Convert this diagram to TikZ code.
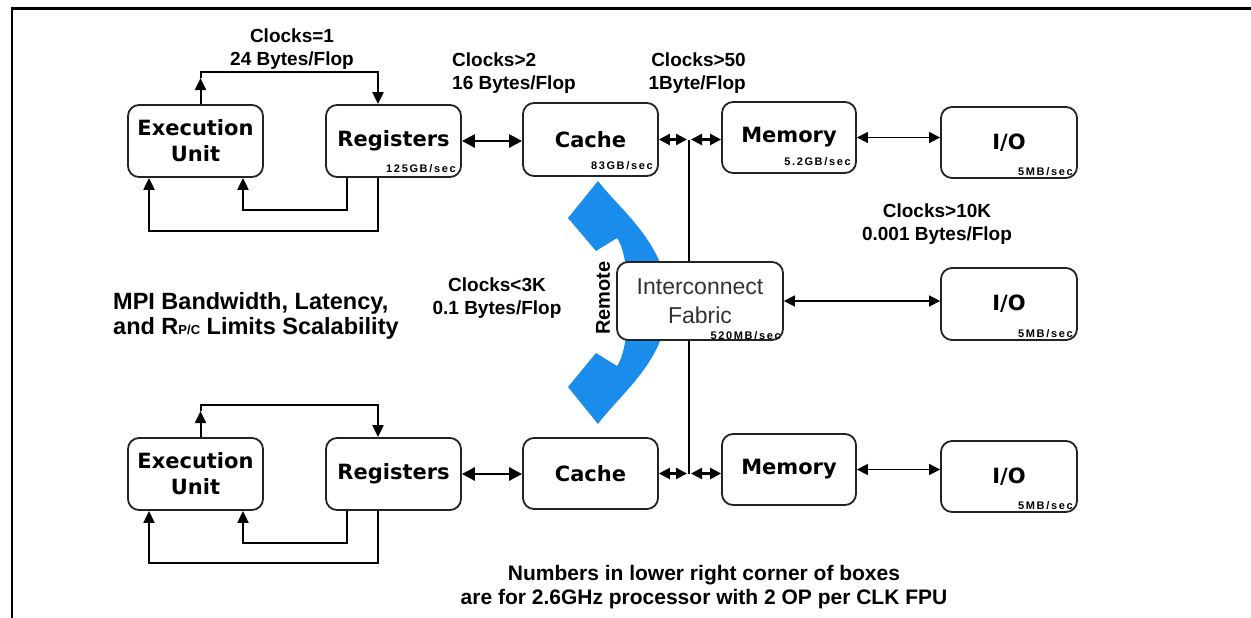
\documentclass[tikz,border=0pt]{standalone}
\usepackage{fontspec}
\setmainfont{Liberation Sans}
\newfontfamily\dvs{DejaVu Sans}
\newfontfamily\spdf[LetterSpace=15]{Liberation Sans}
\usetikzlibrary{arrows.meta,calc,backgrounds}
\definecolor{remoteblue}{RGB}{26,140,235}
\definecolor{boxline}{RGB}{35,35,35}
\definecolor{fabrictext}{RGB}{50,50,50}

\begin{document}
\begin{tikzpicture}[x=1pt,y=-1pt,
  unitbox/.style={draw=boxline, line width=1.8pt, rounded corners=11pt, fill=white,
    minimum width=135pt, minimum height=72pt, inner sep=0pt, align=center,
    font=\dvs\bfseries\fontsize{21}{26}\selectfont},
  fabricbox/.style={unitbox, minimum width=166pt, minimum height=78pt,
    text=fabrictext, font=\fontsize{23}{29}\selectfont},
  spd/.style={anchor=east, inner sep=0pt, font=\spdf\bfseries\fontsize{11}{11}\selectfont},
  clocklbl/.style={inner sep=0pt, font=\bfseries\fontsize{19}{23}\selectfont},
  wire/.style={draw=black, line width=2pt},
  tipend/.style={-{Triangle[length=12pt,width=11pt]}},
  smalldbl/.style={{Triangle[length=11pt,width=11pt]}-{Triangle[length=11pt,width=11pt]}},
  thickdbl/.style={{Triangle[length=13pt,width=13pt]}-{Triangle[length=13pt,width=13pt]}}
]
\useasboundingbox (0,0) rectangle (1251,618);

% ---- upper processor ----
\node[unitbox] (eu1)    at (195.5,141)  {Execution\\Unit};
\node[unitbox] (reg1)   at (393.5,141)  {Registers};
\node[unitbox, minimum height=73pt] (cache1) at (590.5,139.5) {Cache};
\node[unitbox, minimum width=134pt, minimum height=71pt] (mem1) at (789,137.5) {Memory};
\node[unitbox, minimum width=136pt, minimum height=71pt] (io1)  at (1009,142.5) {I/O};

% ---- interconnect ----
\node[fabricbox] (ic) at (700,301) {Interconnect\\Fabric};
\node[unitbox, minimum width=136pt] (io2) at (1009,304) {I/O};

% ---- lower processor ----
\node[unitbox] (eu2)    at (195.5,474)  {Execution\\Unit};
\node[unitbox] (reg2)   at (393.5,474)  {Registers};
\node[unitbox, minimum height=71pt] (cache2) at (590.5,473.5) {Cache};
\node[unitbox, minimum width=134pt, minimum height=71pt] (mem2) at (789,469.5) {Memory};
\node[unitbox, minimum width=136pt, minimum height=71pt] (io3)  at (1009,476.5) {I/O};

% ---- bandwidth figures in the box corners ----
\node[spd] at ($(reg1.south east)+(-6,-9)$)    {125GB/sec};
\node[spd] at ($(cache1.south east)+(-6,-11)$) {83GB/sec};
\node[spd] at ($(mem1.south east)+(-6,-12)$)   {5.2GB/sec};
\node[spd] at ($(io1.south east)+(-5,-7)$)     {5MB/sec};
\node[spd] at ($(ic.south east)+(-3,-5)$)      {520MB/sec};
\node[spd] at ($(io2.south east)+(-5,-7)$)     {5MB/sec};
\node[spd] at ($(io3.south east)+(-5,-7)$)     {5MB/sec};

% ---- latency / bandwidth annotations ----
\node[clocklbl, align=center] (c1) at (292,49) {Clocks=1\\24 Bytes/Flop};
\node[clocklbl, align=left, anchor=west] (c2) at (452,73) {Clocks>2\\16 Bytes/Flop};
\node[clocklbl, align=right, anchor=east] (c3) at (746,73) {Clocks>50\\1Byte/Flop};
\node[clocklbl, align=center] (c4) at (937,224) {Clocks>10K\\0.001 Bytes/Flop};
\node[clocklbl, align=center] (c5) at (497,298) {Clocks<3K\\0.1 Bytes/Flop};
\node[inner sep=0pt, align=left, anchor=west, font=\bfseries\fontsize{23.5}{25}\selectfont] (mpi) at (113,315.5)
  {MPI Bandwidth, Latency,\\and R{\fontsize{13}{13}\selectfont P/C} Limits Scalability};
\node[inner sep=0pt, align=center, font=\bfseries\fontsize{21}{24}\selectfont] (foot) at (704,587)
  {Numbers in lower right corner of boxes\\are for 2.6GHz processor with 2 OP per CLK FPU};
\node[inner sep=0pt, rotate=90, font=\bfseries\fontsize{20}{20}\selectfont] (remote) at (603,298) {Remote};

\coordinate (j1) at (689,139.5);
\coordinate (j2) at (689,473.5);

\begin{pgfonlayer}{background}
  \fill[white] (0,0) rectangle (1251,618);
  % page frame
  \draw[line width=3pt] (10.5,9) -- (1251,9);
  \draw[line width=2.8pt] (12,7.5) -- (12,618);

  % curved double arrow for remote traffic
  \fill[remoteblue] (598,181) .. controls (620,210) and (668,245) .. (668,302)
    .. controls (668,359) and (620,394) .. (598,424)
    -- (568,387) -- (596,353) -- (617,366)
    .. controls (632,345) and (632,259) .. (617,238)
    -- (596,251) -- (568,218) -- cycle;

  % upper processor: execution unit / register loops
  \draw[wire,tipend] ($(eu1.north)+(5,0)$) -- ($(eu1.north)+(5,-26)$);
  \draw[wire,tipend] ($(eu1.north)+(5,-26)$) -- ($(eu1.north)+(5,-32)$) -| ($(reg1.north)+(-15.5,0)$);
  \draw[wire,tipend] ($(reg1.south)+(-46.5,0)$) -- ++(0,32) -| ($(eu1.south)+(47.5,0)$);
  \draw[wire,tipend] ($(reg1.south)+(-15.5,0)$) -- ++(0,53) -| ($(eu1.south)+(-46.5,0)$);

  % lower processor: execution unit / register loops
  \draw[wire,tipend] ($(eu2.north)+(5,0)$) -- ($(eu2.north)+(5,-26)$);
  \draw[wire,tipend] ($(eu2.north)+(5,-26)$) -- ($(eu2.north)+(5,-32)$) -| ($(reg2.north)+(-15.5,0)$);
  \draw[wire,tipend] ($(reg2.south)+(-46.5,0)$) -- ++(0,32) -| ($(eu2.south)+(47.5,0)$);
  \draw[wire,tipend] ($(reg2.south)+(-15.5,0)$) -- ++(0,52) -| ($(eu2.south)+(-46.5,0)$);

  % registers <-> cache
  \draw[wire, line width=2.8pt, thickdbl] (reg1.east) -- (reg1.east -| cache1.west);
  \draw[wire, line width=2.8pt, thickdbl] (reg2.east) -- (reg2.east -| cache2.west);

  % cache <-> memory through the fabric bus
  \draw[wire] (j1) -- (j2);
  \draw[wire, line width=2.4pt, smalldbl, shorten >=2pt] (cache1.east) -- (j1);
  \draw[wire, line width=2.4pt, smalldbl, shorten <=2pt] (j1) -- (j1 -| mem1.west);
  \draw[wire, line width=2.4pt, smalldbl, shorten >=2pt] (cache2.east) -- (j2);
  \draw[wire, line width=2.4pt, smalldbl, shorten <=2pt] (j2) -- (j2 -| mem2.west);

  % memory / fabric <-> I/O
  \draw[wire, line width=1.6pt, smalldbl] (mem1.east) -- (mem1.east -| io1.west);
  \draw[wire, line width=1.6pt, smalldbl] (ic.east) -- (ic.east -| io2.west);
  \draw[wire, line width=1.6pt, smalldbl] (mem2.east) -- (mem2.east -| io3.west);
\end{pgfonlayer}
\end{tikzpicture}
\end{document}
